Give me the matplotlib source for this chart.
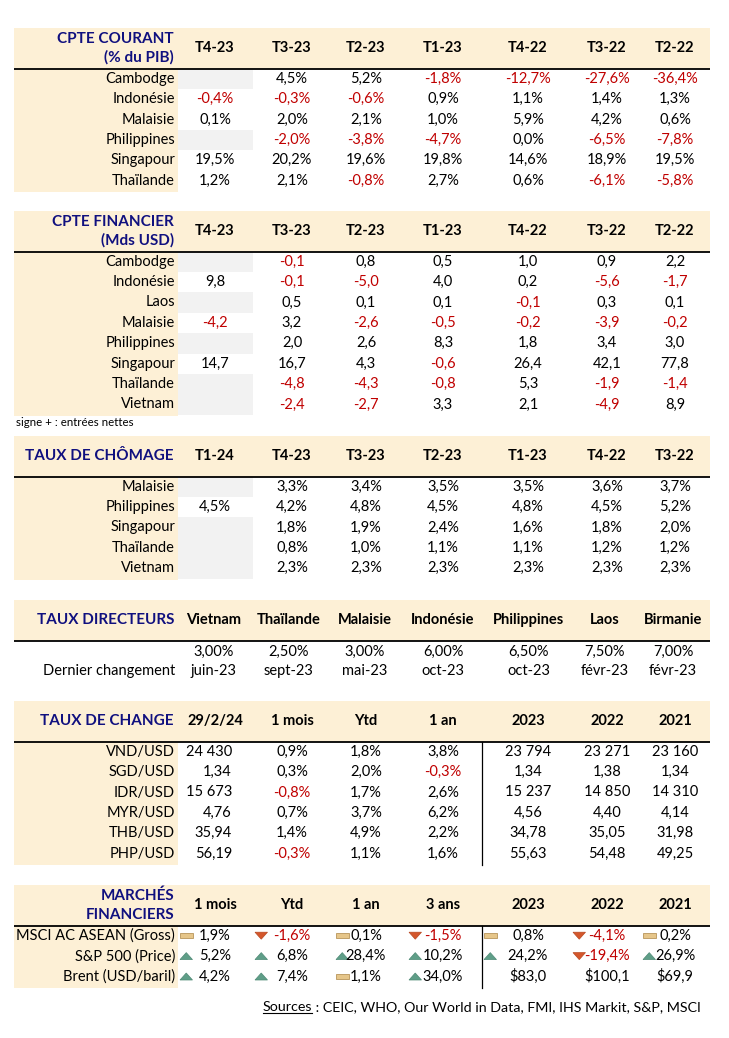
import matplotlib
matplotlib.use('Agg')
import matplotlib.pyplot as plt
from matplotlib.patches import Rectangle, Polygon

plt.rcParams['font.family'] = ['Lato', 'DejaVu Sans']

# ---- data ----
cc_cols = ['T4-23', 'T3-23', 'T2-23', 'T1-23', 'T4-22', 'T3-22', 'T2-22']
cc_rows = ['Cambodge', 'Indonésie', 'Malaisie', 'Philippines', 'Singapour', 'Thaïlande']
cc_vals = [
    [None, 4.5, 5.2, -1.8, -12.7, -27.6, -36.4],
    [-0.4, -0.3, -0.6, 0.9, 1.1, 1.4, 1.3],
    [0.1, 2.0, 2.1, 1.0, 5.9, 4.2, 0.6],
    [None, -2.0, -3.8, -4.7, 0.0, -6.5, -7.8],
    [19.5, 20.2, 19.6, 19.8, 14.6, 18.9, 19.5],
    [1.2, 2.1, -0.8, 2.7, 0.6, -6.1, -5.8],
]

cf_cols = ['T4-23', 'T3-23', 'T2-23', 'T1-23', 'T4-22', 'T3-22', 'T2-22']
cf_rows = ['Cambodge', 'Indonésie', 'Laos', 'Malaisie', 'Philippines', 'Singapour', 'Thaïlande', 'Vietnam']
cf_vals = [
    [None, -0.1, 0.8, 0.5, 1.0, 0.9, 2.2],
    [9.8, -0.1, -5.0, 4.0, 0.2, -5.6, -1.7],
    [None, 0.5, 0.1, 0.1, -0.1, 0.3, 0.1],
    [-4.2, 3.2, -2.6, -0.5, -0.2, -3.9, -0.2],
    [None, 2.0, 2.6, 8.3, 1.8, 3.4, 3.0],
    [14.7, 16.7, 4.3, -0.6, 26.4, 42.1, 77.8],
    [None, -4.8, -4.3, -0.8, 5.3, -1.9, -1.4],
    [None, -2.4, -2.7, 3.3, 2.1, -4.9, 8.9],
]

ch_cols = ['T1-24', 'T4-23', 'T3-23', 'T2-23', 'T1-23', 'T4-22', 'T3-22']
ch_rows = ['Malaisie', 'Philippines', 'Singapour', 'Thaïlande', 'Vietnam']
ch_vals = [
    [None, 3.3, 3.4, 3.5, 3.5, 3.6, 3.7],
    [4.5, 4.2, 4.8, 4.5, 4.8, 4.5, 5.2],
    [None, 1.8, 1.9, 2.4, 1.6, 1.8, 2.0],
    [None, 0.8, 1.0, 1.1, 1.1, 1.2, 1.2],
    [None, 2.3, 2.3, 2.3, 2.3, 2.3, 2.3],
]

td_cols = ['Vietnam', 'Thaïlande', 'Malaisie', 'Indonésie', 'Philippines', 'Laos', 'Birmanie']
td_rates = [3.00, 2.50, 3.00, 6.00, 6.50, 7.50, 7.00]
td_dates = ['juin-23', 'sept-23', 'mai-23', 'oct-23', 'oct-23', 'févr-23', 'févr-23']

fx_cols = ['29/2/24', '1 mois', 'Ytd', '1 an', '2023', '2022', '2021']
fx_rows = ['VND/USD', 'SGD/USD', 'IDR/USD', 'MYR/USD', 'THB/USD', 'PHP/USD']
fx_spot = [24430, 1.34, 15673, 4.76, 35.94, 56.19]
fx_chg = [[0.9, 1.8, 3.8], [0.3, 2.0, -0.3], [-0.8, 1.7, 2.6],
          [0.7, 3.7, 6.2], [1.4, 4.9, 2.2], [-0.3, 1.1, 1.6]]
fx_hist = [[23794, 23271, 23160], [1.34, 1.38, 1.34], [15237, 14850, 14310],
           [4.56, 4.40, 4.14], [34.78, 35.05, 31.98], [55.63, 54.48, 49.25]]

mk_cols = ['1 mois', 'Ytd', '1 an', '3 ans', '2023', '2022', '2021']
mk_rows = ['MSCI AC ASEAN (Gross)', 'S&P 500 (Price)', 'Brent (USD/baril)']
mk_vals = [[1.9, -1.6, 0.1, -1.5, 0.8, -4.1, 0.2],
           [5.2, 6.8, 28.4, 10.2, 24.2, -19.4, 26.9],
           [4.2, 7.4, 1.1, 34.0, 83.0, 100.1, 69.9]]
mk_dollar_years = [False, False, True]  # Brent: levels in $ for 2023-2021

sources = 'CEIC, WHO, Our World in Data, FMI, IHS Markit, S&P, MSCI'

# ---- style ----
BEIGE = '#FDF0D6'
GREY = '#F2F2F2'
RED = '#C00000'
NAVY = '#10107F'
FS = 10.5
X0, X1 = 14, 710
LAB_R = 178
CX = [215, 292, 366, 443, 528, 607, 675]
TD_CX = [214, 289, 365, 443, 529, 605, 673]
ICON_L = [180, 255, 336, 409, 484, 573, 643]
ROW_H = 20.4


def fr(v, d=1):
    return f"{v:.{d}f}".replace('.', ',')


def pct(v):
    return fr(v) + '%'


def fxnum(v):
    if v >= 1000:
        return f"{v:,.0f}".replace(',', ' ')
    return fr(v, 2)


fig = plt.figure(figsize=(7.29, 10.38), dpi=100)
ax = fig.add_axes([0, 0, 1, 1])
ax.set_xlim(0, 729)
ax.set_ylim(1038, 0)
ax.axis('off')


def header(y0, title, cols, centers=CX, h=40.5):
    ax.add_patch(Rectangle((X0, y0), X1 - X0, h, color=BEIGE, lw=0))
    ym = y0 + h / 2
    if len(title) == 2:
        ax.text(174, ym - 9.5, title[0], ha='right', va='center', fontsize=11,
                fontweight='bold', color=NAVY)
        ax.text(174, ym + 9.5, title[1], ha='right', va='center', fontsize=11,
                fontweight='bold', color=NAVY)
    else:
        ax.text(174, ym, title[0], ha='right', va='center', fontsize=11,
                fontweight='bold', color=NAVY)
    for c, x in zip(cols, centers):
        ax.text(x, ym, c, ha='center', va='center', fontsize=FS, fontweight='bold', color='black')
    ax.plot([X0, X1], [y0 + h, y0 + h], color='black', lw=1.3, solid_capstyle='butt')
    return y0 + h


def body(ytop, rows, vals, fmt, grey_col=0, beige=True):
    n = len(rows)
    if beige:
        ax.add_patch(Rectangle((X0, ytop), LAB_R - X0, n * ROW_H + 1.5, color=BEIGE, lw=0))
    for i, (name, rv) in enumerate(zip(rows, vals)):
        yc = ytop + (i + 0.5) * ROW_H
        ax.text(175, yc, name, ha='right', va='center', fontsize=FS)
        for j, v in enumerate(rv):
            if v is None:
                if j == grey_col:
                    ax.add_patch(Rectangle((LAB_R, ytop + i * ROW_H), 75, ROW_H,
                                           color=GREY, lw=0))
                continue
            ax.text(CX[j], yc, fmt(v), ha='center', va='center', fontsize=FS,
                    color=RED if v < 0 else 'black')


# CPTE COURANT
y = header(28, ['CPTE COURANT', '(% du PIB)'], cc_cols)
body(y, cc_rows, cc_vals, pct)

# CPTE FINANCIER
y = header(211, ['CPTE FINANCIER', '(Mds USD)'], cf_cols)
body(y, cf_rows, cf_vals, fr)
ax.text(16, 423, 'signe + : entrées nettes', ha='left', va='center', fontsize=8.3)

# TAUX DE CHOMAGE
y = header(436, ['TAUX DE CHÔMAGE'], ch_cols)
body(y, ch_rows, ch_vals, pct)

# TAUX DIRECTEURS
y = header(600, ['TAUX DIRECTEURS'], td_cols, centers=TD_CX)
for xc, r, d in zip(TD_CX, td_rates, td_dates):
    ax.text(xc, y + 11.5, fr(r, 2) + '%', ha='center', va='center', fontsize=FS)
    ax.text(xc, y + 30.5, d, ha='center', va='center', fontsize=FS)
ax.text(175, y + 30.5, 'Dernier changement', ha='right', va='center', fontsize=FS)

# TAUX DE CHANGE
y = header(701, ['TAUX DE CHANGE'], fx_cols)
ax.add_patch(Rectangle((X0, y), LAB_R - X0, len(fx_rows) * ROW_H + 1.5, color=BEIGE, lw=0))
for i, name in enumerate(fx_rows):
    yc = y + (i + 0.5) * ROW_H
    ax.text(175, yc, name, ha='right', va='center', fontsize=FS)
    ax.text(232, yc, fxnum(fx_spot[i]), ha='right', va='center', fontsize=FS)
    for j, v in enumerate(fx_chg[i]):
        ax.text(CX[j + 1], yc, pct(v), ha='center', va='center', fontsize=FS,
                color=RED if v < 0 else 'black')
    for j, v in enumerate(fx_hist[i]):
        ax.text(CX[j + 4], yc, fxnum(v), ha='center', va='center', fontsize=FS)
ax.plot([482, 482], [y, y + len(fx_rows) * ROW_H + 1.5], color='black', lw=0.9)


# MARCHES FINANCIERS
def icon(kind, xl, yc):
    if kind == 'up':
        ax.add_patch(Polygon([(xl, yc + 3.5), (xl + 12.5, yc + 3.5), (xl + 6.25, yc - 3.5)],
                             closed=True, facecolor='#5F9E88', edgecolor='#4E8A75', lw=0.5))
    elif kind == 'down':
        ax.add_patch(Polygon([(xl, yc - 3.5), (xl + 12.5, yc - 3.5), (xl + 6.25, yc + 3.5)],
                             closed=True, facecolor='#D4572C', edgecolor='#B84820', lw=0.5))
    else:
        ax.add_patch(Rectangle((xl, yc - 2.5), 13, 5, facecolor='#E6C68A',
                               edgecolor='#B8955A', lw=0.6))


y = header(885, ['MARCHÉS', 'FINANCIERS'], mk_cols)
ax.add_patch(Rectangle((X0, y), LAB_R - X0, len(mk_rows) * ROW_H + 1.5, color=BEIGE, lw=0))
for i, name in enumerate(mk_rows):
    yc = y + (i + 0.5) * ROW_H
    ax.text(175, yc, name, ha='right', va='center', fontsize=FS)
    for j, v in enumerate(mk_vals[i]):
        if mk_dollar_years[i] and j >= 4:
            ax.text(CX[j], yc, '$' + fr(v), ha='center', va='center', fontsize=FS)
            continue
        kind = 'down' if v < 0 else ('flat' if v < 3 else 'up')
        icon(kind, ICON_L[j], yc)
        ax.text(CX[j], yc, pct(v), ha='center', va='center', fontsize=FS,
                color=RED if v < 0 else 'black')
ax.plot([482, 482], [y, y + len(mk_rows) * ROW_H + 1.5], color='black', lw=0.9)

# Sources
t = ax.text(263, 1007, 'Sources', ha='left', va='center', fontsize=10.3)
fig.canvas.draw()
bb = t.get_window_extent().transformed(ax.transData.inverted())
ax.plot([bb.x0, bb.x1], [1013, 1013], color='black', lw=0.8)
ax.text(bb.x1, 1007, ' : ' + sources, ha='left', va='center', fontsize=10.3)

fig.savefig('out.png', dpi=100, facecolor='white')
